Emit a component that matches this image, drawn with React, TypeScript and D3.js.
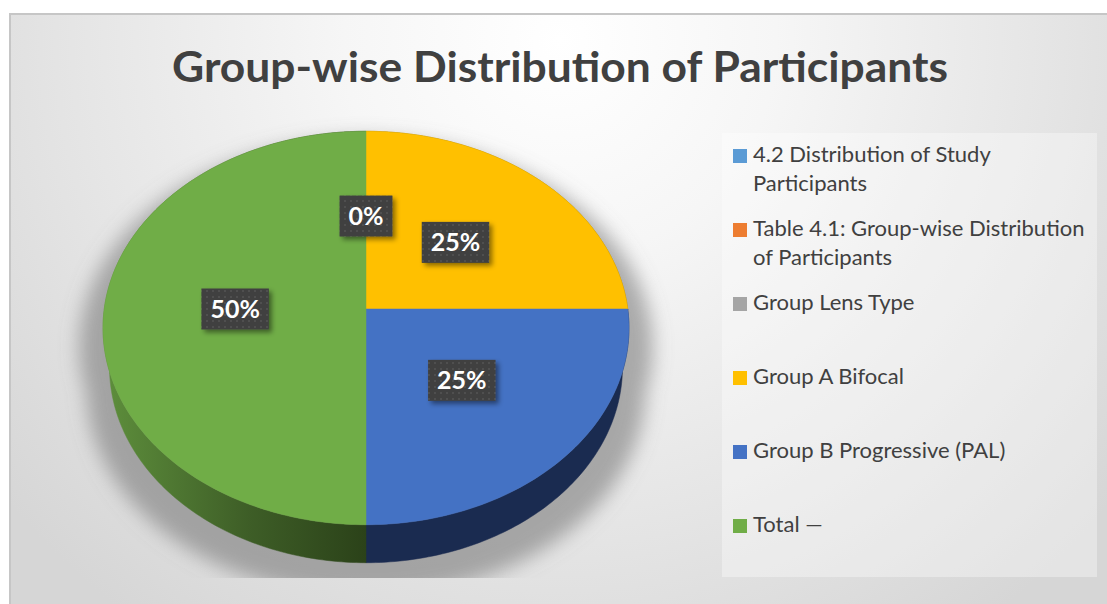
import React from "react";
import * as d3 from "d3";

const title = "Group-wise Distribution of Participants";
const categories = [
  "4.2 Distribution of Study Participants",
  "Table 4.1: Group-wise Distribution of Participants",
  "Group Lens Type",
  "Group A Bifocal",
  "Group B Progressive (PAL)",
  "Total —",
];
const legendLines = [
  ["4.2 Distribution of Study", "Participants"],
  ["Table 4.1: Group-wise Distribution", "of Participants"],
  ["Group Lens Type"],
  ["Group A Bifocal"],
  ["Group B Progressive (PAL)"],
  ["Total —"],
];
const values = [0, 0, 0, 50, 50, 100];
const colors = ["#5B9BD5", "#ED7D31", "#A5A5A5", "#FFC000", "#4472C4", "#70AD47"];
const sideColors = ["#2f5b82", "#8f4a1c", "#666666", "#9c7600", "#1a2b50", "url(#greenSide)"];

const W = 1107;
const H = 604;

// 3D perspective pie parameters (style/geometry)
const CX = 366;
const CY = 309;
const SIN_E = 0.7446;
const COS_E = 0.6675;
const DIST = 6.915;
const K = 1810;
const THICK = 0.233;

function proj(r: number, phi: number, Y: number): [number, number] {
  const X = r * Math.sin(phi);
  const Z = -r * Math.cos(phi);
  const yv = Y * COS_E - Z * SIN_E;
  const depth = DIST - (Z * COS_E + Y * SIN_E);
  return [CX + (K * X) / depth, CY - (K * yv) / depth];
}

function arcPoints(a0: number, a1: number, Y: number, r = 1): [number, number][] {
  const n = Math.max(2, Math.ceil(((a1 - a0) / Math.PI) * 180));
  const pts: [number, number][] = [];
  for (let i = 0; i <= n; i++) pts.push(proj(r, a0 + ((a1 - a0) * i) / n, Y));
  return pts;
}

const line = d3.line();

let measureCtx: CanvasRenderingContext2D | null = null;
function measure(text: string, font: string): number {
  if (!measureCtx) measureCtx = document.createElement("canvas").getContext("2d");
  if (!measureCtx) return text.length * 12;
  measureCtx.font = font;
  return measureCtx.measureText(text).width;
}

export default function App() {
  const total = d3.sum(values);
  const pie = d3.pie<number>().sort(null).startAngle(0).endAngle(2 * Math.PI);
  const arcs = pie(values);
  const pct = d3.format(".0%");

  const sides = arcs
    .map((a, i) => ({ a, i }))
    .filter(({ a }) => a.endAngle > a.startAngle)
    .map(({ a, i }) => {
      const top = arcPoints(a.startAngle, a.endAngle, 0);
      const bot = arcPoints(a.startAngle, a.endAngle, -THICK).reverse();
      return { d: line([...top, ...bot]) + "Z", fill: sideColors[i], key: i };
    });

  const tops = arcs
    .map((a, i) => ({ a, i }))
    .filter(({ a }) => a.endAngle > a.startAngle)
    .map(({ a, i }) => {
      const pts = arcPoints(a.startAngle, a.endAngle, 0);
      return { d: line([[CX, CY], ...pts]) + "Z", fill: colors[i], key: i };
    });

  // silhouette for shadow
  const silTop = arcPoints(0, 2 * Math.PI, 0);
  const silBot = arcPoints(Math.PI / 2, (3 * Math.PI) / 2, -THICK);
  const silD = line(silTop) + "Z " + line(silBot) + "Z";

  const labelFont = "bold 25px Lato";
  const seen = new Set<string>();
  const labels = arcs
    .map((a, i) => {
      const mid = (a.startAngle + a.endAngle) / 2;
      const [x, y] = proj(0.5, mid, 0);
      const text = pct(values[i] / total);
      return { x, y, text, key: i };
    })
    .filter((l) => {
      const k = `${Math.round(l.x)}_${Math.round(l.y)}`;
      if (seen.has(k)) return false;
      seen.add(k);
      return true;
    });

  const legendX = 733;
  const legendY0 = 149;
  const legendStep = 74;
  const lineH = 29;

  return (
    <svg
      width={W}
      height={H}
      style={{ position: "absolute", left: 0, top: 0, display: "block" }}
      xmlns="http://www.w3.org/2000/svg"
    >
      <defs>
        <radialGradient id="bg" gradientUnits="userSpaceOnUse" cx={560} cy={40} r={720}>
          <stop offset="0" stopColor="#ffffff" />
          <stop offset="0.3" stopColor="#f6f6f6" />
          <stop offset="0.7" stopColor="#e4e4e4" />
          <stop offset="1" stopColor="#d6d6d6" />
        </radialGradient>
        <linearGradient id="greenSide" gradientUnits="userSpaceOnUse" x1={103} y1={0} x2={366} y2={0}>
          <stop offset="0" stopColor="#5e8f3c" />
          <stop offset="0.55" stopColor="#3e5e27" />
          <stop offset="1" stopColor="#2b4219" />
        </linearGradient>
        <filter id="pieShadow" x="-20%" y="-20%" width="140%" height="140%">
          <feGaussianBlur stdDeviation="9" />
        </filter>
        <filter id="lblShadow" x="-30%" y="-30%" width="170%" height="170%">
          <feDropShadow dx="3" dy="3" stdDeviation="2.5" floodColor="#000" floodOpacity="0.45" />
        </filter>
        <pattern id="dots" width="6" height="6" patternUnits="userSpaceOnUse">
          <rect width="6" height="6" fill="#404040" />
          <circle cx="3" cy="3" r="0.9" fill="#575757" />
        </pattern>
        <clipPath id="shadowClip">
          <rect x={0} y={0} width={W} height={578} />
        </clipPath>
      </defs>

      <rect x={0} y={0} width={W} height={H} fill="#ffffff" />
      <rect x={10} y={14} width={W} height={H} fill="url(#bg)" stroke="#c6c6c6" strokeWidth={2} />

      <text
        x={560}
        y={82}
        textAnchor="middle"
        fontFamily="Lato, 'Open Sans', sans-serif"
        fontWeight="bold"
        fontSize={42}
        fill="#404040"
        textLength={776}
        lengthAdjust="spacingAndGlyphs"
      >
        {title}
      </text>

      {/* pie shadow */}
      <g clipPath="url(#shadowClip)">
        <g
          filter="url(#pieShadow)"
          transform={`translate(${CX},${CY + 18}) scale(1.09,1.06) translate(${-CX},${-CY})`}
        >
          <path d={silD} fill="#7a7a7a" fillOpacity={0.6} />
        </g>
      </g>

      {sides.map((s) => (
        <path key={"s" + s.key} d={s.d} fill={s.fill} stroke={s.fill} strokeWidth={0.5} />
      ))}
      {tops.map((t) => (
        <path key={"t" + t.key} d={t.d} fill={t.fill} stroke={t.fill} strokeWidth={0.5} />
      ))}

      {labels.map((l) => {
        const tw = measure(l.text, labelFont);
        const bw = tw + 18;
        const bh = 41;
        return (
          <g key={"l" + l.key}>
            <rect x={l.x - bw / 2} y={l.y - bh / 2} width={bw} height={bh} fill="url(#dots)" filter="url(#lblShadow)" />
            <text
              x={l.x}
              y={l.y + 9}
              textAnchor="middle"
              fontFamily="Lato, sans-serif"
              fontWeight="bold"
              fontSize={25}
              fill="#ffffff"
            >
              {l.text}
            </text>
          </g>
        );
      })}

      {/* legend */}
      <rect x={722} y={133} width={375} height={444} fill="#ffffff" fillOpacity={0.35} />
      {categories.map((c, i) => {
        const y = legendY0 + i * legendStep;
        return (
          <g key={"lg" + i}>
            <rect x={legendX} y={y} width={14} height={14} fill={colors[i]} />
            {legendLines[i].map((ln, j) => (
              <text
                key={j}
                x={753}
                y={y + 13 + j * lineH}
                fontFamily="Lato, sans-serif"
                fontSize={22}
                fill="#404040"
              >
                {ln}
              </text>
            ))}
          </g>
        );
      })}
    </svg>
  );
}
